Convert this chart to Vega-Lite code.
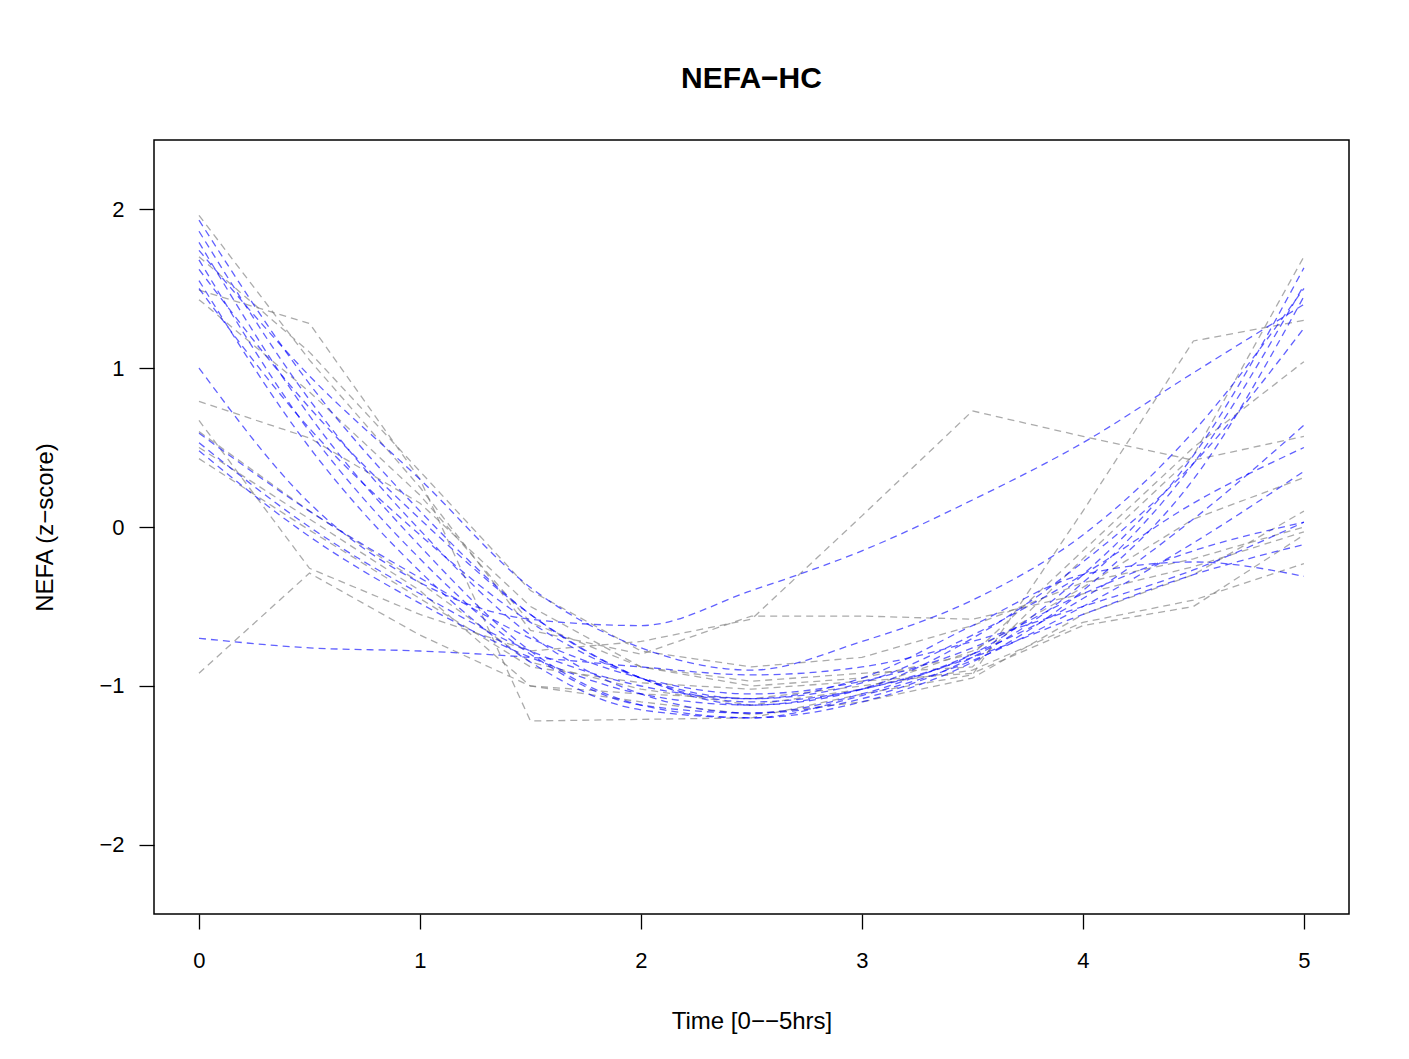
{
  "$schema": "https://vega.github.io/schema/vega-lite/v6.json",
  "autosize": {"type": "none"},
  "padding": {"left": 154, "top": 140, "right": 60, "bottom": 145},
  "width": 1195,
  "height": 774,
  "background": "white",
  "title": {"text": "NEFA−HC", "font": "Liberation Sans", "fontSize": 30, "fontWeight": "bold", "color": "black", "offset": 46, "anchor": "middle"},
  "config": {
    "view": {"stroke": "black", "strokeWidth": 1.5},
    "axis": {"grid": false, "domain": false, "tickColor": "black", "tickSize": 15, "tickWidth": 1.3, "labelFont": "Liberation Sans", "labelFontSize": 22, "labelColor": "black", "titleFont": "Liberation Sans", "titleFontSize": 24, "titleFontWeight": "normal", "titleColor": "black"}
  },
  "datasets": {"d": [
    {"id":"gA","g":"g","t":0,"v":1.49},{"id":"gA","g":"g","t":0.5,"v":1.28},{"id":"gA","g":"g","t":1,"v":0.30},{"id":"gA","g":"g","t":1.5,"v":-1.22},{"id":"gA","g":"g","t":2,"v":-1.21},{"id":"gA","g":"g","t":2.5,"v":-1.20},{"id":"gA","g":"g","t":3,"v":-1.05},{"id":"gA","g":"g","t":3.5,"v":-0.93},{"id":"gA","g":"g","t":4,"v":0.10},{"id":"gA","g":"g","t":4.5,"v":1.17},{"id":"gA","g":"g","t":5,"v":1.30},
    {"id":"gB","g":"g","t":0,"v":-0.92},{"id":"gB","g":"g","t":0.5,"v":-0.29},{"id":"gB","g":"g","t":1,"v":-0.68},{"id":"gB","g":"g","t":1.5,"v":-1.00},{"id":"gB","g":"g","t":2,"v":-1.05},{"id":"gB","g":"g","t":2.5,"v":-1.08},{"id":"gB","g":"g","t":3,"v":-1.00},{"id":"gB","g":"g","t":3.5,"v":-0.90},{"id":"gB","g":"g","t":4,"v":-0.60},{"id":"gB","g":"g","t":4.5,"v":-0.46},{"id":"gB","g":"g","t":5,"v":-0.23},
    {"id":"gC","g":"g","t":0,"v":0.67},{"id":"gC","g":"g","t":0.5,"v":-0.26},{"id":"gC","g":"g","t":1,"v":-0.55},{"id":"gC","g":"g","t":1.5,"v":-0.78},{"id":"gC","g":"g","t":2,"v":-0.72},{"id":"gC","g":"g","t":2.5,"v":-0.58},{"id":"gC","g":"g","t":3,"v":0.07},{"id":"gC","g":"g","t":3.5,"v":0.73},{"id":"gC","g":"g","t":4,"v":0.57},{"id":"gC","g":"g","t":4.5,"v":0.42},{"id":"gC","g":"g","t":5,"v":0.57},
    {"id":"gD","g":"g","t":0,"v":1.96},{"id":"gD","g":"g","t":0.5,"v":1.05},{"id":"gD","g":"g","t":1,"v":0.25},{"id":"gD","g":"g","t":1.5,"v":-0.65},{"id":"gD","g":"g","t":2,"v":-0.80},{"id":"gD","g":"g","t":2.5,"v":-0.56},{"id":"gD","g":"g","t":3,"v":-0.56},{"id":"gD","g":"g","t":3.5,"v":-0.58},{"id":"gD","g":"g","t":4,"v":-0.42},{"id":"gD","g":"g","t":4.5,"v":-0.25},{"id":"gD","g":"g","t":5,"v":-0.03},
    {"id":"gE","g":"g","t":0,"v":1.43},{"id":"gE","g":"g","t":0.5,"v":0.85},{"id":"gE","g":"g","t":1,"v":0.20},{"id":"gE","g":"g","t":1.5,"v":-0.60},{"id":"gE","g":"g","t":2,"v":-0.88},{"id":"gE","g":"g","t":2.5,"v":-0.97},{"id":"gE","g":"g","t":3,"v":-0.92},{"id":"gE","g":"g","t":3.5,"v":-0.88},{"id":"gE","g":"g","t":4,"v":-0.20},{"id":"gE","g":"g","t":4.5,"v":0.45},{"id":"gE","g":"g","t":5,"v":1.70},
    {"id":"gF","g":"g","t":0,"v":0.79},{"id":"gF","g":"g","t":0.5,"v":0.56},{"id":"gF","g":"g","t":1,"v":0.15},{"id":"gF","g":"g","t":1.5,"v":-0.50},{"id":"gF","g":"g","t":2,"v":-0.88},{"id":"gF","g":"g","t":2.5,"v":-1.00},{"id":"gF","g":"g","t":3,"v":-0.95},{"id":"gF","g":"g","t":3.5,"v":-0.80},{"id":"gF","g":"g","t":4,"v":-0.15},{"id":"gF","g":"g","t":4.5,"v":0.50},{"id":"gF","g":"g","t":5,"v":1.04},
    {"id":"gG","g":"g","t":0,"v":0.43},{"id":"gG","g":"g","t":0.5,"v":-0.02},{"id":"gG","g":"g","t":1,"v":-0.45},{"id":"gG","g":"g","t":1.5,"v":-0.88},{"id":"gG","g":"g","t":2,"v":-0.98},{"id":"gG","g":"g","t":2.5,"v":-1.02},{"id":"gG","g":"g","t":3,"v":-0.97},{"id":"gG","g":"g","t":3.5,"v":-0.92},{"id":"gG","g":"g","t":4,"v":-0.62},{"id":"gG","g":"g","t":4.5,"v":-0.50},{"id":"gG","g":"g","t":5,"v":-0.05},
    {"id":"gH","g":"g","t":0,"v":0.60},{"id":"gH","g":"g","t":0.5,"v":0.10},{"id":"gH","g":"g","t":1,"v":-0.35},{"id":"gH","g":"g","t":1.5,"v":-0.85},{"id":"gH","g":"g","t":2,"v":-1.02},{"id":"gH","g":"g","t":2.5,"v":-1.12},{"id":"gH","g":"g","t":3,"v":-1.02},{"id":"gH","g":"g","t":3.5,"v":-0.78},{"id":"gH","g":"g","t":4,"v":-0.38},{"id":"gH","g":"g","t":4.5,"v":0.05},{"id":"gH","g":"g","t":5,"v":0.31},
    {"id":"gI","g":"g","t":0,"v":1.70},{"id":"gI","g":"g","t":0.5,"v":1.10},{"id":"gI","g":"g","t":1,"v":0.35},{"id":"gI","g":"g","t":1.5,"v":-0.40},{"id":"gI","g":"g","t":2,"v":-0.78},{"id":"gI","g":"g","t":2.5,"v":-0.88},{"id":"gI","g":"g","t":3,"v":-0.82},{"id":"gI","g":"g","t":3.5,"v":-0.62},{"id":"gI","g":"g","t":4,"v":-0.35},{"id":"gI","g":"g","t":4.5,"v":-0.20},{"id":"gI","g":"g","t":5,"v":0.00},
    {"id":"gJ","g":"g","t":0,"v":0.50},{"id":"gJ","g":"g","t":0.5,"v":0.05},{"id":"gJ","g":"g","t":1,"v":-0.40},{"id":"gJ","g":"g","t":1.5,"v":-1.00},{"id":"gJ","g":"g","t":2,"v":-1.10},{"id":"gJ","g":"g","t":2.5,"v":-1.18},{"id":"gJ","g":"g","t":3,"v":-1.10},{"id":"gJ","g":"g","t":3.5,"v":-0.95},{"id":"gJ","g":"g","t":4,"v":-0.55},{"id":"gJ","g":"g","t":4.5,"v":-0.30},{"id":"gJ","g":"g","t":5,"v":0.10},
    {"id":"b01","g":"b","t":0,"v":1.93},{"id":"b01","g":"b","t":0.5,"v":0.90},{"id":"b01","g":"b","t":1,"v":0.10},{"id":"b01","g":"b","t":1.5,"v":-0.55},{"id":"b01","g":"b","t":2,"v":-0.95},{"id":"b01","g":"b","t":2.5,"v":-1.10},{"id":"b01","g":"b","t":3,"v":-1.02},{"id":"b01","g":"b","t":3.5,"v":-0.80},{"id":"b01","g":"b","t":4,"v":-0.30},{"id":"b01","g":"b","t":4.5,"v":0.45},{"id":"b01","g":"b","t":5,"v":1.63},
    {"id":"b02","g":"b","t":0,"v":1.86},{"id":"b02","g":"b","t":0.5,"v":0.80},{"id":"b02","g":"b","t":1,"v":-0.02},{"id":"b02","g":"b","t":1.5,"v":-0.68},{"id":"b02","g":"b","t":2,"v":-1.05},{"id":"b02","g":"b","t":2.5,"v":-1.17},{"id":"b02","g":"b","t":3,"v":-1.08},{"id":"b02","g":"b","t":3.5,"v":-0.82},{"id":"b02","g":"b","t":4,"v":-0.35},{"id":"b02","g":"b","t":4.5,"v":0.40},{"id":"b02","g":"b","t":5,"v":1.52},
    {"id":"b03","g":"b","t":0,"v":1.79},{"id":"b03","g":"b","t":0.5,"v":0.70},{"id":"b03","g":"b","t":1,"v":-0.12},{"id":"b03","g":"b","t":1.5,"v":-0.78},{"id":"b03","g":"b","t":2,"v":-1.12},{"id":"b03","g":"b","t":2.5,"v":-1.20},{"id":"b03","g":"b","t":3,"v":-1.10},{"id":"b03","g":"b","t":3.5,"v":-0.85},{"id":"b03","g":"b","t":4,"v":-0.40},{"id":"b03","g":"b","t":4.5,"v":0.30},{"id":"b03","g":"b","t":5,"v":1.45},
    {"id":"b04","g":"b","t":0,"v":1.74},{"id":"b04","g":"b","t":0.5,"v":0.95},{"id":"b04","g":"b","t":1,"v":0.30},{"id":"b04","g":"b","t":1.5,"v":-0.38},{"id":"b04","g":"b","t":2,"v":-0.76},{"id":"b04","g":"b","t":2.5,"v":-0.90},{"id":"b04","g":"b","t":3,"v":-0.72},{"id":"b04","g":"b","t":3.5,"v":-0.46},{"id":"b04","g":"b","t":4,"v":-0.05},{"id":"b04","g":"b","t":4.5,"v":0.60},{"id":"b04","g":"b","t":5,"v":1.50},
    {"id":"b05","g":"b","t":0,"v":1.68},{"id":"b05","g":"b","t":0.5,"v":0.60},{"id":"b05","g":"b","t":1,"v":-0.20},{"id":"b05","g":"b","t":1.5,"v":-0.80},{"id":"b05","g":"b","t":2,"v":-1.12},{"id":"b05","g":"b","t":2.5,"v":-1.17},{"id":"b05","g":"b","t":3,"v":-1.05},{"id":"b05","g":"b","t":3.5,"v":-0.80},{"id":"b05","g":"b","t":4,"v":-0.45},{"id":"b05","g":"b","t":4.5,"v":0.05},{"id":"b05","g":"b","t":5,"v":0.64},
    {"id":"b06","g":"b","t":0,"v":1.62},{"id":"b06","g":"b","t":0.5,"v":0.75},{"id":"b06","g":"b","t":1,"v":0.05},{"id":"b06","g":"b","t":1.5,"v":-0.55},{"id":"b06","g":"b","t":2,"v":-0.95},{"id":"b06","g":"b","t":2.5,"v":-1.12},{"id":"b06","g":"b","t":3,"v":-1.02},{"id":"b06","g":"b","t":3.5,"v":-0.70},{"id":"b06","g":"b","t":4,"v":-0.22},{"id":"b06","g":"b","t":4.5,"v":0.40},{"id":"b06","g":"b","t":5,"v":1.25},
    {"id":"b07","g":"b","t":0,"v":1.55},{"id":"b07","g":"b","t":0.5,"v":0.50},{"id":"b07","g":"b","t":1,"v":-0.28},{"id":"b07","g":"b","t":1.5,"v":-0.85},{"id":"b07","g":"b","t":2,"v":-1.15},{"id":"b07","g":"b","t":2.5,"v":-1.20},{"id":"b07","g":"b","t":3,"v":-1.06},{"id":"b07","g":"b","t":3.5,"v":-0.84},{"id":"b07","g":"b","t":4,"v":-0.50},{"id":"b07","g":"b","t":4.5,"v":-0.10},{"id":"b07","g":"b","t":5,"v":0.35},
    {"id":"b08","g":"b","t":0,"v":1.50},{"id":"b08","g":"b","t":0.5,"v":0.62},{"id":"b08","g":"b","t":1,"v":-0.05},{"id":"b08","g":"b","t":1.5,"v":-0.60},{"id":"b08","g":"b","t":2,"v":-0.95},{"id":"b08","g":"b","t":2.5,"v":-1.08},{"id":"b08","g":"b","t":3,"v":-0.98},{"id":"b08","g":"b","t":3.5,"v":-0.68},{"id":"b08","g":"b","t":4,"v":-0.30},{"id":"b08","g":"b","t":4.5,"v":0.15},{"id":"b08","g":"b","t":5,"v":0.50},
    {"id":"b09","g":"b","t":0,"v":1.00},{"id":"b09","g":"b","t":0.5,"v":0.15},{"id":"b09","g":"b","t":1,"v":-0.35},{"id":"b09","g":"b","t":1.5,"v":-0.58},{"id":"b09","g":"b","t":2,"v":-0.62},{"id":"b09","g":"b","t":2.5,"v":-0.40},{"id":"b09","g":"b","t":3,"v":-0.15},{"id":"b09","g":"b","t":3.5,"v":0.17},{"id":"b09","g":"b","t":4,"v":0.53},{"id":"b09","g":"b","t":4.5,"v":0.97},{"id":"b09","g":"b","t":5,"v":1.40},
    {"id":"b10","g":"b","t":0,"v":0.59},{"id":"b10","g":"b","t":0.5,"v":0.10},{"id":"b10","g":"b","t":1,"v":-0.32},{"id":"b10","g":"b","t":1.5,"v":-0.70},{"id":"b10","g":"b","t":2,"v":-0.95},{"id":"b10","g":"b","t":2.5,"v":-1.05},{"id":"b10","g":"b","t":3,"v":-0.97},{"id":"b10","g":"b","t":3.5,"v":-0.76},{"id":"b10","g":"b","t":4,"v":-0.42},{"id":"b10","g":"b","t":4.5,"v":-0.15},{"id":"b10","g":"b","t":5,"v":0.03},
    {"id":"b11","g":"b","t":0,"v":0.53},{"id":"b11","g":"b","t":0.5,"v":0.00},{"id":"b11","g":"b","t":1,"v":-0.42},{"id":"b11","g":"b","t":1.5,"v":-0.78},{"id":"b11","g":"b","t":2,"v":-1.00},{"id":"b11","g":"b","t":2.5,"v":-1.08},{"id":"b11","g":"b","t":3,"v":-0.95},{"id":"b11","g":"b","t":3.5,"v":-0.62},{"id":"b11","g":"b","t":4,"v":-0.30},{"id":"b11","g":"b","t":4.5,"v":-0.22},{"id":"b11","g":"b","t":5,"v":-0.31},
    {"id":"b12","g":"b","t":0,"v":0.48},{"id":"b12","g":"b","t":0.5,"v":-0.06},{"id":"b12","g":"b","t":1,"v":-0.48},{"id":"b12","g":"b","t":1.5,"v":-0.82},{"id":"b12","g":"b","t":2,"v":-1.05},{"id":"b12","g":"b","t":2.5,"v":-1.12},{"id":"b12","g":"b","t":3,"v":-1.02},{"id":"b12","g":"b","t":3.5,"v":-0.82},{"id":"b12","g":"b","t":4,"v":-0.55},{"id":"b12","g":"b","t":4.5,"v":-0.30},{"id":"b12","g":"b","t":5,"v":-0.11},
    {"id":"b13","g":"b","t":0,"v":-0.70},{"id":"b13","g":"b","t":0.5,"v":-0.76},{"id":"b13","g":"b","t":1,"v":-0.78},{"id":"b13","g":"b","t":1.5,"v":-0.82},{"id":"b13","g":"b","t":2,"v":-0.88},{"id":"b13","g":"b","t":2.5,"v":-0.93},{"id":"b13","g":"b","t":3,"v":-0.88},{"id":"b13","g":"b","t":3.5,"v":-0.72},{"id":"b13","g":"b","t":4,"v":-0.50},{"id":"b13","g":"b","t":4.5,"v":-0.27},{"id":"b13","g":"b","t":5,"v":0.03}
  ]},
  "data": {"name": "d"},
  "encoding": {
    "x": {"field": "t", "type": "quantitative", "scale": {"domain": [-0.2036, 5.204], "nice": false, "zero": false},
      "axis": {"values": [0, 1, 2, 3, 4, 5], "title": "Time [0−−5hrs]", "labelPadding": 21, "titlePadding": 38}},
    "y": {"field": "v", "type": "quantitative", "scale": {"domain": [-2.434, 2.434], "nice": false, "zero": false},
      "axis": {"values": [-2, -1, 0, 1, 2], "title": "NEFA (z−score)", "labelPadding": 15, "titlePadding": 41}},
    "detail": {"field": "id"},
    "color": {"field": "g", "type": "nominal", "scale": {"domain": ["g", "b"], "range": ["#777777", "#0000ff"]}, "legend": null}
  },
  "layer": [
    {"transform": [{"filter": "datum.g === 'g'"}],
     "mark": {"type": "line", "strokeDash": [7, 5], "strokeWidth": 1.3, "opacity": 0.62, "interpolate": "linear"}},
    {"transform": [{"filter": "datum.g === 'b'"}],
     "mark": {"type": "line", "strokeDash": [7, 5], "strokeWidth": 1.3, "opacity": 0.62, "interpolate": "monotone"}}
  ]
}
